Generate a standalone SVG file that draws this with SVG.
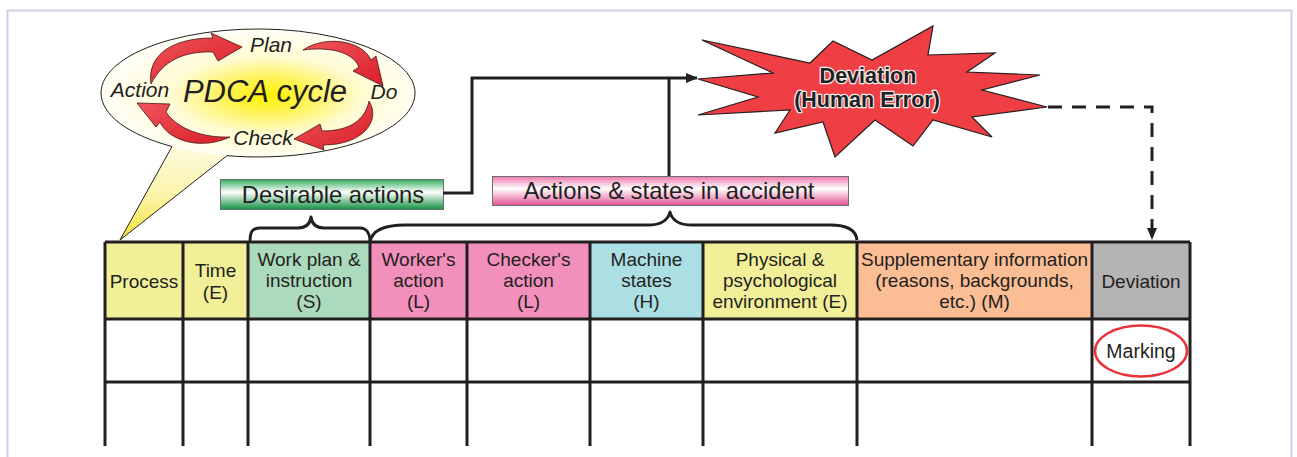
<svg xmlns="http://www.w3.org/2000/svg" width="1297" height="457" viewBox="0 0 1297 457">
<defs>
  <radialGradient id="bubbleGrad" cx="0.53" cy="0.52" r="0.5">
    <stop offset="0" stop-color="#fff100"/>
    <stop offset="0.28" stop-color="#fff35a"/>
    <stop offset="0.6" stop-color="#fffbd2"/>
    <stop offset="1" stop-color="#fffef4"/>
  </radialGradient>
  <linearGradient id="tailGrad" x1="0" y1="0" x2="0" y2="1">
    <stop offset="0" stop-color="#fffbe0"/>
    <stop offset="0.55" stop-color="#fbf3a6"/>
    <stop offset="1" stop-color="#f4e23a"/>
  </linearGradient>
  <linearGradient id="greenGrad" x1="0" y1="0" x2="0" y2="1">
    <stop offset="0" stop-color="#34ad5e"/>
    <stop offset="0.42" stop-color="#ffffff"/>
    <stop offset="1" stop-color="#129142"/>
  </linearGradient>
  <linearGradient id="pinkGrad" x1="0" y1="0" x2="0" y2="1">
    <stop offset="0" stop-color="#ec78ab"/>
    <stop offset="0.42" stop-color="#ffffff"/>
    <stop offset="1" stop-color="#e25394"/>
  </linearGradient>
  <linearGradient id="redGrad" x1="0" y1="0" x2="1" y2="1">
    <stop offset="0" stop-color="#f0545a"/>
    <stop offset="1" stop-color="#d91f29"/>
  </linearGradient>
  <marker id="arrow" viewBox="0 0 12 10" refX="11" refY="5" markerWidth="12" markerHeight="10" markerUnits="userSpaceOnUse" orient="auto">
    <path d="M0,0 L12,5 L0,10 Z" fill="#231f20"/>
  </marker>
  <style>
    .txt { font-family: "Liberation Sans", Arial, sans-serif; fill: #231f20; text-anchor: middle; }
    .hdr { font-size: 19px; }
    .pd { font-style: italic; font-size: 21px; }
    .grid { stroke: #231f20; stroke-width: 3; fill: none; }
    .conn { stroke: #231f20; stroke-width: 3; fill: none; }
    .brace { stroke: #231f20; stroke-width: 3; fill: none; stroke-linejoin: round; }
    .parrow { fill: url(#redGrad); stroke: #4a1515; stroke-width: 0.8; stroke-linejoin: round; }
    .lbl { stroke: #6d6e71; stroke-width: 1; }
    .dev { font-weight: bold; font-size: 21.5px; stroke: #f0f0f0; stroke-width: 2.5; paint-order: stroke; stroke-linejoin: round; }
  </style>
</defs>

<rect x="0" y="0" width="1297" height="457" fill="#ffffff"/>
<rect x="7.5" y="10.5" width="1284" height="470" fill="#ffffff" stroke="#d6cce8" stroke-width="2"/>

<!-- PDCA bubble -->
<g id="pdca">
  <path d="M172,146.5 L120,240 L227,155.7 Z" fill="url(#tailGrad)"/>
  <ellipse cx="258" cy="93" rx="157" ry="64" fill="url(#bubbleGrad)"/>
  <path d="M172,146.5 L120,240 L227,155.7 A157,64 0 1 0 172,146.5" fill="none" stroke="#231f20" stroke-width="1"/>
  <path class="parrow" d="M151,84 C147,58 168,38 213,38 L211,33 L242,47 L218,61 L213,52 C185,51 163,60 151,84 Z"/>
  <path class="parrow" d="M303,50 C325,35 362,40 371,60 L376,56 L383,86 L353,71 L359,67 C352,50 325,47 303,50 Z"/>
  <path class="parrow" d="M369,101 C381,120 364,145 323,145 L324,150 L294,139 L320,124 L322,131 C350,131 365,120 369,101 Z"/>
  <path class="parrow" d="M230,137 C200,151 168,140 160,122 L156,127 L137,103 L170,104 L166,112 C178,130 205,138 230,137 Z"/>
  <text class="txt pd" x="271" y="52">Plan</text>
  <text class="txt pd" x="140" y="97">Action</text>
  <text class="txt pd" x="384" y="99">Do</text>
  <text class="txt pd" x="263" y="145">Check</text>
  <text class="txt" x="265" y="102" style="font-style:italic;font-size:31px">PDCA cycle</text>
</g>

<!-- Deviation star -->
<g id="deviation-star">
  <polygon points="698,79 773,73 702,40 810,63 833,41 872,60 933,26 928,55 995,53 967,72 1040,75 982,90 1047,107 972,117 992,137 933,120 913,146 875,120 835,157 823,122 775,133 790,110 698,115 758,97" fill="#ef3e44" stroke="#231f20" stroke-width="1.2" stroke-linejoin="miter"/>
  <text class="txt dev" x="868" y="83">Deviation</text>
  <text class="txt dev" x="867" y="107">(Human Error)</text>
</g>

<!-- Labels -->
<g id="desirable-actions">
  <rect class="lbl" x="220.5" y="179.5" width="223" height="30" fill="url(#greenGrad)"/>
  <text class="txt" x="333" y="202.5" style="font-size:23.8px">Desirable actions</text>
</g>
<g id="actions-states">
  <rect class="lbl" x="492.5" y="176.5" width="356" height="29" fill="url(#pinkGrad)"/>
  <text class="txt" x="669" y="198.5" style="font-size:23.8px">Actions &amp; states in accident</text>
</g>

<!-- Braces -->
<g id="braces">
  <path class="brace" d="M250,242 C250,232 252,228 260,228 L298,228 C306,228 310,224 311,217 C312,224 316,228 324,228 L360,228 C367,228 370,234 370,242"/>
  <path class="brace" d="M370,242 C372,230 385,225 405,225 L648,225 C662,225 668,220 670,212 C672,220 678,225 692,225 L830,225 C848,225 856,230 857,240"/>
</g>

<!-- Connectors -->
<g id="connectors">
  <polyline class="conn" points="443,193 472,193 472,78 697,78" marker-end="url(#arrow)"/>
  <line class="conn" x1="669" y1="176" x2="669" y2="78"/>
  <polyline class="conn" points="1048,107 1152,107 1152,239" stroke-dasharray="14,10" marker-end="url(#arrow)"/>
</g>

<!-- Table -->
<g id="table">
  <rect x="105" y="242" width="78" height="77" fill="#f1ef98"/>
  <rect x="183" y="242" width="65" height="77" fill="#f1ef98"/>
  <rect x="248" y="242" width="122" height="77" fill="#acdabc"/>
  <rect x="370" y="242" width="97" height="77" fill="#f290bb"/>
  <rect x="467" y="242" width="123" height="77" fill="#f290bb"/>
  <rect x="590" y="242" width="113" height="77" fill="#abdfe4"/>
  <rect x="703" y="242" width="154" height="77" fill="#f1ef98"/>
  <rect x="857" y="242" width="235" height="77" fill="#fbbd94"/>
  <rect x="1092" y="242" width="98" height="77" fill="#b4b4b5"/>
  <path class="grid" d="M105,242 H1190 M105,319 H1190 M105,382 H1190 M105,242 V446 M183,242 V446 M248,242 V446 M370,242 V446 M467,242 V446 M590,242 V446 M703,242 V446 M857,242 V446 M1092,242 V446 M1190,242 V446"/>
  <g class="txt hdr">
    <text x="144" y="288">Process</text>
    <text x="215.5" y="277">Time</text>
    <text x="215.5" y="299">(E)</text>
    <text x="309" y="266">Work plan &amp;</text>
    <text x="309" y="287">instruction</text>
    <text x="309" y="308">(S)</text>
    <text x="418.5" y="266">Worker's</text>
    <text x="418.5" y="287">action</text>
    <text x="418.5" y="308">(L)</text>
    <text x="528.5" y="266">Checker's</text>
    <text x="528.5" y="287">action</text>
    <text x="528.5" y="308">(L)</text>
    <text x="646.5" y="266">Machine</text>
    <text x="646.5" y="287">states</text>
    <text x="646.5" y="308">(H)</text>
    <text x="780" y="266">Physical &amp;</text>
    <text x="780" y="287">psychological</text>
    <text x="780" y="308">environment (E)</text>
    <text x="974.5" y="266">Supplementary information</text>
    <text x="974.5" y="287">(reasons, backgrounds,</text>
    <text x="974.5" y="308">etc.) (M)</text>
    <text x="1141" y="288">Deviation</text>
  </g>
  <g id="marking">
    <ellipse cx="1141" cy="351" rx="46" ry="25.5" fill="none" stroke="#e8323a" stroke-width="2.5"/>
    <text class="txt" x="1141" y="357.5" style="font-size:19.5px">Marking</text>
  </g>
</g>
</svg>
